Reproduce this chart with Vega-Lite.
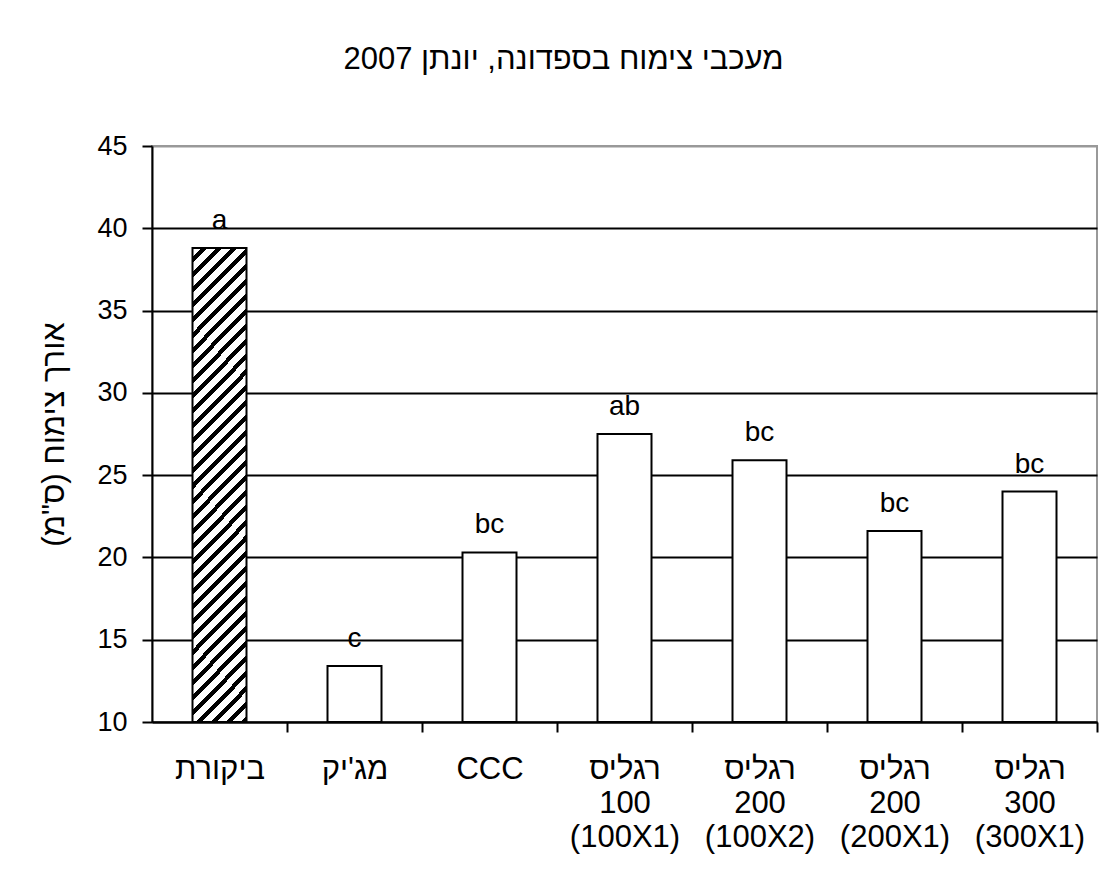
{
  "$schema": "https://vega.github.io/schema/vega-lite/v6.json",
  "autosize": "none",
  "width": 945,
  "height": 576,
  "padding": {"left": 152, "top": 146, "right": 16, "bottom": 173},
  "background": "white",
  "title": {
    "text": "מעכבי צימוח בספדונה, יונתן 2007",
    "anchor": "middle",
    "dx": -61,
    "offset": 56,
    "fontSize": 31,
    "fontWeight": "normal",
    "font": "Liberation Sans",
    "color": "black"
  },
  "data": {
    "values": [
      {"treatment": "ביקורת", "growth": 38.8, "letter": "a", "group": "control"},
      {"treatment": "מג'יק", "growth": 13.4, "letter": "c", "group": "treat"},
      {"treatment": "CCC", "growth": 20.3, "letter": "bc", "group": "treat"},
      {"treatment": "רגליס 100 (100X1)", "growth": 27.5, "letter": "ab", "group": "treat"},
      {"treatment": "רגליס 200 (100X2)", "growth": 25.9, "letter": "bc", "group": "treat"},
      {"treatment": "רגליס 200 (200X1)", "growth": 21.6, "letter": "bc", "group": "treat"},
      {"treatment": "רגליס 300 (300X1)", "growth": 24.0, "letter": "bc", "group": "treat"}
    ]
  },
  "encoding": {
    "x": {
      "field": "treatment",
      "type": "nominal",
      "sort": ["ביקורת", "מג'יק", "CCC", "רגליס 100 (100X1)", "רגליס 200 (100X2)", "רגליס 200 (200X1)", "רגליס 300 (300X1)"],
      "scale": {"paddingInner": 0.6, "paddingOuter": 0.3},
      "axis": {
        "title": null,
        "labelAngle": 0,
        "labelExpr": "split(datum.label, ' ')",
        "labelFontSize": 31,
        "labelFont": "Liberation Sans",
        "labelColor": "black",
        "labelLineHeight": 34,
        "labelPadding": 22,
        "labelBaseline": "top",
        "bandPosition": 1,
        "tickOffset": 40.5,
        "labelOffset": -40.5,
        "tickExtra": false,
        "tickSize": 10,
        "tickColor": "black",
        "tickWidth": 2,
        "domainColor": "black",
        "domainWidth": 2,
        "grid": false
      }
    },
    "y": {
      "field": "growth",
      "type": "quantitative",
      "scale": {"domain": [10, 45], "nice": false, "zero": false},
      "axis": {
        "title": "אורך צימוח (ס\"מ)",
        "titleFontSize": 31,
        "titleFont": "Liberation Sans",
        "titleFontWeight": "normal",
        "titleColor": "black",
        "titlePadding": 26,
        "values": [10, 15, 20, 25, 30, 35, 40, 45],
        "labelFontSize": 27,
        "labelFont": "Liberation Sans",
        "labelColor": "black",
        "labelPadding": 15,
        "tickSize": 10,
        "tickColor": "black",
        "tickWidth": 2,
        "domainColor": "black",
        "domainWidth": 2,
        "grid": true,
        "gridColor": {"condition": {"test": "datum.value >= 45", "value": "#999999"}, "value": "black"},
        "gridWidth": 2,
        "gridOpacity": 1
      }
    }
  },
  "layer": [
    {
      "transform": [{"filter": "datum.group === 'treat'"}],
      "mark": {"type": "bar", "fill": "white", "stroke": "black", "strokeWidth": 2},
      "encoding": {"y2": {"datum": 10}}
    },
    {
      "transform": [{"filter": "datum.group === 'control'"}],
      "mark": {
        "type": "bar",
        "stroke": "black",
        "strokeWidth": 2,
        "fill": {
          "gradient": "linear",
          "x1": 0, "y1": 0, "x2": 0.127, "y2": 1.1,
          "stops": [
            {"offset": 0, "color": "white"}, {"offset": 0.01714, "color": "white"}, {"offset": 0.01714, "color": "black"}, {"offset": 0.02857, "color": "black"},
            {"offset": 0.02857, "color": "white"}, {"offset": 0.04571, "color": "white"}, {"offset": 0.04571, "color": "black"}, {"offset": 0.05714, "color": "black"},
            {"offset": 0.05714, "color": "white"}, {"offset": 0.07429, "color": "white"}, {"offset": 0.07429, "color": "black"}, {"offset": 0.08571, "color": "black"},
            {"offset": 0.08571, "color": "white"}, {"offset": 0.10286, "color": "white"}, {"offset": 0.10286, "color": "black"}, {"offset": 0.11429, "color": "black"},
            {"offset": 0.11429, "color": "white"}, {"offset": 0.13143, "color": "white"}, {"offset": 0.13143, "color": "black"}, {"offset": 0.14286, "color": "black"},
            {"offset": 0.14286, "color": "white"}, {"offset": 0.16, "color": "white"}, {"offset": 0.16, "color": "black"}, {"offset": 0.17143, "color": "black"},
            {"offset": 0.17143, "color": "white"}, {"offset": 0.18857, "color": "white"}, {"offset": 0.18857, "color": "black"}, {"offset": 0.2, "color": "black"},
            {"offset": 0.2, "color": "white"}, {"offset": 0.21714, "color": "white"}, {"offset": 0.21714, "color": "black"}, {"offset": 0.22857, "color": "black"},
            {"offset": 0.22857, "color": "white"}, {"offset": 0.24571, "color": "white"}, {"offset": 0.24571, "color": "black"}, {"offset": 0.25714, "color": "black"},
            {"offset": 0.25714, "color": "white"}, {"offset": 0.27429, "color": "white"}, {"offset": 0.27429, "color": "black"}, {"offset": 0.28571, "color": "black"},
            {"offset": 0.28571, "color": "white"}, {"offset": 0.30286, "color": "white"}, {"offset": 0.30286, "color": "black"}, {"offset": 0.31429, "color": "black"},
            {"offset": 0.31429, "color": "white"}, {"offset": 0.33143, "color": "white"}, {"offset": 0.33143, "color": "black"}, {"offset": 0.34286, "color": "black"},
            {"offset": 0.34286, "color": "white"}, {"offset": 0.36, "color": "white"}, {"offset": 0.36, "color": "black"}, {"offset": 0.37143, "color": "black"},
            {"offset": 0.37143, "color": "white"}, {"offset": 0.38857, "color": "white"}, {"offset": 0.38857, "color": "black"}, {"offset": 0.4, "color": "black"},
            {"offset": 0.4, "color": "white"}, {"offset": 0.41714, "color": "white"}, {"offset": 0.41714, "color": "black"}, {"offset": 0.42857, "color": "black"},
            {"offset": 0.42857, "color": "white"}, {"offset": 0.44571, "color": "white"}, {"offset": 0.44571, "color": "black"}, {"offset": 0.45714, "color": "black"},
            {"offset": 0.45714, "color": "white"}, {"offset": 0.47429, "color": "white"}, {"offset": 0.47429, "color": "black"}, {"offset": 0.48571, "color": "black"},
            {"offset": 0.48571, "color": "white"}, {"offset": 0.50286, "color": "white"}, {"offset": 0.50286, "color": "black"}, {"offset": 0.51429, "color": "black"},
            {"offset": 0.51429, "color": "white"}, {"offset": 0.53143, "color": "white"}, {"offset": 0.53143, "color": "black"}, {"offset": 0.54286, "color": "black"},
            {"offset": 0.54286, "color": "white"}, {"offset": 0.56, "color": "white"}, {"offset": 0.56, "color": "black"}, {"offset": 0.57143, "color": "black"},
            {"offset": 0.57143, "color": "white"}, {"offset": 0.58857, "color": "white"}, {"offset": 0.58857, "color": "black"}, {"offset": 0.6, "color": "black"},
            {"offset": 0.6, "color": "white"}, {"offset": 0.61714, "color": "white"}, {"offset": 0.61714, "color": "black"}, {"offset": 0.62857, "color": "black"},
            {"offset": 0.62857, "color": "white"}, {"offset": 0.64571, "color": "white"}, {"offset": 0.64571, "color": "black"}, {"offset": 0.65714, "color": "black"},
            {"offset": 0.65714, "color": "white"}, {"offset": 0.67429, "color": "white"}, {"offset": 0.67429, "color": "black"}, {"offset": 0.68571, "color": "black"},
            {"offset": 0.68571, "color": "white"}, {"offset": 0.70286, "color": "white"}, {"offset": 0.70286, "color": "black"}, {"offset": 0.71429, "color": "black"},
            {"offset": 0.71429, "color": "white"}, {"offset": 0.73143, "color": "white"}, {"offset": 0.73143, "color": "black"}, {"offset": 0.74286, "color": "black"},
            {"offset": 0.74286, "color": "white"}, {"offset": 0.76, "color": "white"}, {"offset": 0.76, "color": "black"}, {"offset": 0.77143, "color": "black"},
            {"offset": 0.77143, "color": "white"}, {"offset": 0.78857, "color": "white"}, {"offset": 0.78857, "color": "black"}, {"offset": 0.8, "color": "black"},
            {"offset": 0.8, "color": "white"}, {"offset": 0.81714, "color": "white"}, {"offset": 0.81714, "color": "black"}, {"offset": 0.82857, "color": "black"},
            {"offset": 0.82857, "color": "white"}, {"offset": 0.84571, "color": "white"}, {"offset": 0.84571, "color": "black"}, {"offset": 0.85714, "color": "black"},
            {"offset": 0.85714, "color": "white"}, {"offset": 0.87429, "color": "white"}, {"offset": 0.87429, "color": "black"}, {"offset": 0.88571, "color": "black"},
            {"offset": 0.88571, "color": "white"}, {"offset": 0.90286, "color": "white"}, {"offset": 0.90286, "color": "black"}, {"offset": 0.91429, "color": "black"},
            {"offset": 0.91429, "color": "white"}, {"offset": 0.93143, "color": "white"}, {"offset": 0.93143, "color": "black"}, {"offset": 0.94286, "color": "black"},
            {"offset": 0.94286, "color": "white"}, {"offset": 0.96, "color": "white"}, {"offset": 0.96, "color": "black"}, {"offset": 0.97143, "color": "black"},
            {"offset": 0.97143, "color": "white"}, {"offset": 0.98857, "color": "white"}, {"offset": 0.98857, "color": "black"}, {"offset": 1, "color": "black"}
          ]
        }
      },
      "encoding": {"y2": {"datum": 10}}
    },
    {
      "mark": {"type": "text", "baseline": "bottom", "dy": -13, "fontSize": 28, "font": "Liberation Sans", "color": "black"},
      "encoding": {"text": {"field": "letter"}}
    }
  ],
  "config": {
    "view": {"stroke": "#999999", "strokeWidth": 2}
  }
}
